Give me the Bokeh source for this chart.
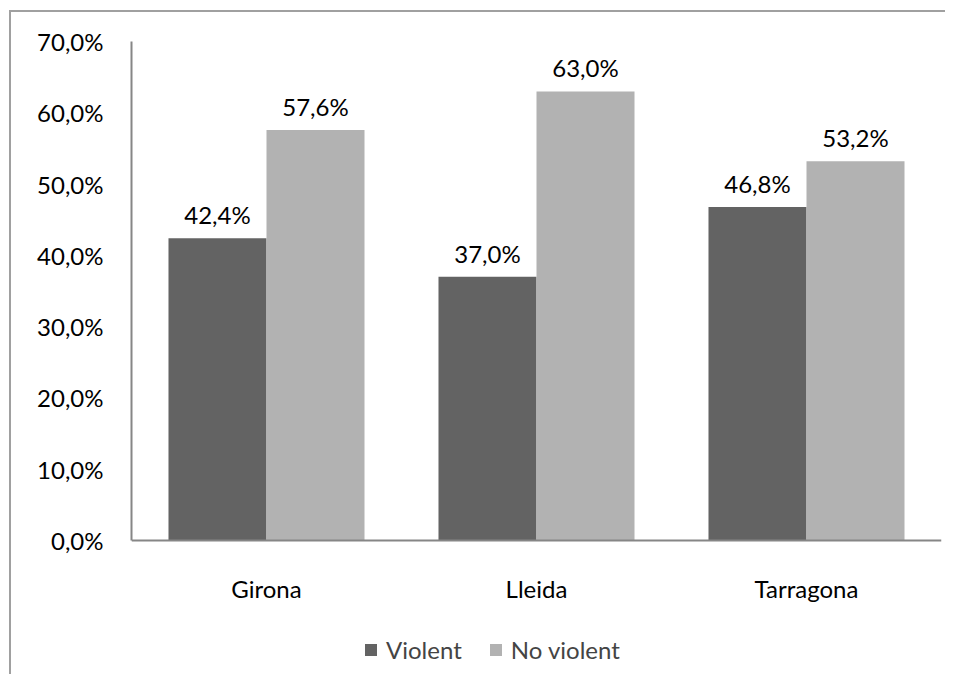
from bokeh.plotting import figure
from bokeh.models import ColumnDataSource, FactorRange, Range1d, FixedTicker, Legend, LegendItem
from bokeh.transform import dodge
from bokeh.core.properties import value
from bokeh.embed import file_html
from bokeh.resources import INLINE

categories = ["Girona", "Lleida", "Tarragona"]
violent = [42.4, 37.0, 46.8]
no_violent = [57.6, 63.0, 53.2]
series_names = ["Violent", "No violent"]
y_ticks = [0, 10, 20, 30, 40, 50, 60, 70]
y_tick_labels = ["0,0%", "10,0%", "20,0%", "30,0%", "40,0%", "50,0%", "60,0%", "70,0%"]

def fmt(v):
    return f"{v:.1f}".replace(".", ",") + "%"

src = ColumnDataSource(dict(
    cat=categories,
    v=violent,
    nv=no_violent,
    vl=[fmt(v) for v in violent],
    nvl=[fmt(v) for v in no_violent],
))

FONT = "Lato"
FS = "24px"
DARK = "#636363"
LIGHT = "#b2b2b2"
AXIS = "#868686"

# frame extends below the value axis so the legend can sit inside it
px_per_unit = 499 / 70.0
y_start = -136 / px_per_unit

p = figure(width=936, height=664, x_range=FactorRange(*categories, range_padding=0),
           y_range=Range1d(y_start, 70), output_backend="svg", toolbar_location=None,
           min_border_left=120, min_border_right=6, min_border_top=29, min_border_bottom=0)
p.xgrid.visible = False
p.ygrid.visible = False
p.outline_line_color = None

bw = 0.363
r1 = p.vbar(x=dodge("cat", -bw / 2, range=p.x_range), top="v", width=bw, bottom=0,
            source=src, fill_color=DARK, line_color=None)
r2 = p.vbar(x=dodge("cat", bw / 2, range=p.x_range), top="nv", width=bw, bottom=0,
            source=src, fill_color=LIGHT, line_color=None)

p.text(x=dodge("cat", -bw / 2, range=p.x_range), y="v", text="vl", source=src,
       text_align="center", text_baseline="bottom", y_offset=-9,
       text_font=value(FONT), text_font_size=FS, text_color="black")
p.text(x=dodge("cat", bw / 2, range=p.x_range), y="nv", text="nvl", source=src,
       text_align="center", text_baseline="bottom", y_offset=-9,
       text_font=value(FONT), text_font_size=FS, text_color="black")

p.yaxis.ticker = FixedTicker(ticks=y_ticks)
p.yaxis.major_label_overrides = {t: l for t, l in zip(y_ticks, y_tick_labels)}
p.yaxis.bounds = (0, 70)
p.xaxis.fixed_location = 0
for ax in (p.xaxis, p.yaxis):
    ax.axis_line_color = AXIS
    ax.axis_line_width = 2
    ax.major_tick_line_color = None
    ax.minor_tick_line_color = None
    ax.major_label_text_font = FONT
    ax.major_label_text_font_size = FS
    ax.major_label_text_color = "black"
p.yaxis.major_label_standoff = 22
p.xaxis.major_label_standoff = 27

legend = Legend(items=[LegendItem(label=series_names[0], renderers=[r1]),
                       LegendItem(label=series_names[1], renderers=[r2])],
                location=(232, 12), orientation="horizontal",
                label_text_font=FONT, label_text_font_size=FS,
                glyph_width=15, glyph_height=15, label_standoff=8, spacing=26,
                border_line_color=None, background_fill_alpha=0, padding=4, margin=0)
p.add_layout(legend, "center")

p.styles = {"border-left": "2px solid #a0a0a0", "border-top": "2px solid #a0a0a0",
            "border-right": "none", "border-bottom": "none",
            "margin-left": "9px", "margin-top": "10px"}

open("out.html", "w").write(file_html(p, INLINE))
